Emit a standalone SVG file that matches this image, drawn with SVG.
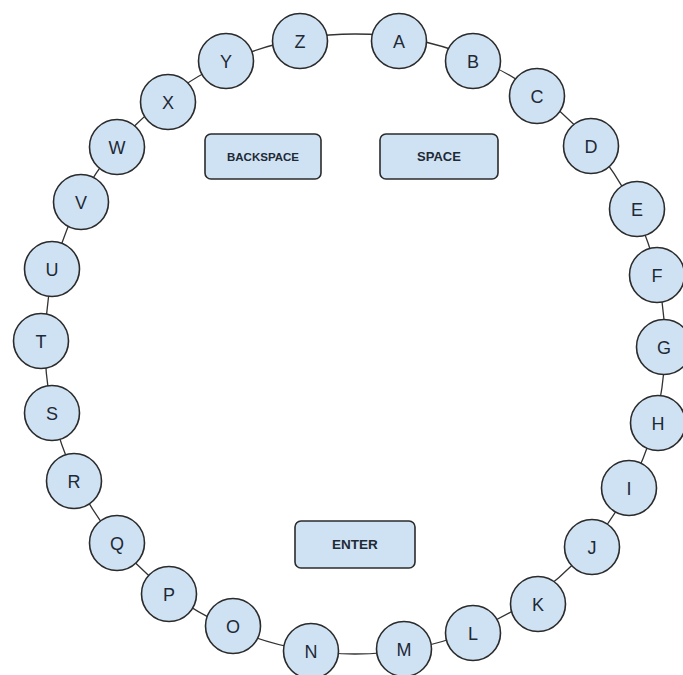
<svg xmlns="http://www.w3.org/2000/svg" width="683" height="675" viewBox="0 0 683 675">
<style>
.ring{fill:none;stroke:#333;stroke-width:1.3}
.node circle{fill:#cfe2f3;stroke:#2b2b2b;stroke-width:1.6}
.node text{font-family:"Liberation Sans",Arial,sans-serif;font-size:18px;fill:#1e2a36;text-anchor:middle}
.key rect{fill:#cfe2f3;stroke:#2b2b2b;stroke-width:1.6}
.key text{font-family:"Liberation Sans",Arial,sans-serif;font-weight:bold;fill:#1e2a36;text-anchor:middle}
</style>
<rect width="683" height="675" fill="#ffffff"/>
<g id="connectors">
<circle class="ring" cx="355" cy="344" r="310"/>
</g>
<g id="A" class="node"><circle cx="399" cy="41" r="27.5"/><text x="399" y="47.5">A</text></g>
<g id="B" class="node"><circle cx="473" cy="61" r="27.5"/><text x="473" y="67.5">B</text></g>
<g id="C" class="node"><circle cx="537" cy="96" r="27.5"/><text x="537" y="102.5">C</text></g>
<g id="D" class="node"><circle cx="591" cy="146" r="27.5"/><text x="591" y="152.5">D</text></g>
<g id="E" class="node"><circle cx="637" cy="209" r="27.5"/><text x="637" y="215.5">E</text></g>
<g id="F" class="node"><circle cx="657" cy="275" r="27.5"/><text x="657" y="281.5">F</text></g>
<g id="G" class="node"><circle cx="664" cy="347" r="27.5"/><text x="664" y="353.5">G</text></g>
<g id="H" class="node"><circle cx="658" cy="423" r="27.5"/><text x="658" y="429.5">H</text></g>
<g id="I" class="node"><circle cx="629" cy="488" r="27.5"/><text x="629" y="494.5">I</text></g>
<g id="J" class="node"><circle cx="592" cy="547" r="27.5"/><text x="592" y="553.5">J</text></g>
<g id="K" class="node"><circle cx="538" cy="604" r="27.5"/><text x="538" y="610.5">K</text></g>
<g id="L" class="node"><circle cx="473" cy="633" r="27.5"/><text x="473" y="639.5">L</text></g>
<g id="M" class="node"><circle cx="404" cy="649" r="27.5"/><text x="404" y="655.5">M</text></g>
<g id="N" class="node"><circle cx="311" cy="651" r="27.5"/><text x="311" y="657.5">N</text></g>
<g id="O" class="node"><circle cx="233" cy="626" r="27.5"/><text x="233" y="632.5">O</text></g>
<g id="P" class="node"><circle cx="169" cy="594" r="27.5"/><text x="169" y="600.5">P</text></g>
<g id="Q" class="node"><circle cx="117" cy="543" r="27.5"/><text x="117" y="549.5">Q</text></g>
<g id="R" class="node"><circle cx="74" cy="481" r="27.5"/><text x="74" y="487.5">R</text></g>
<g id="S" class="node"><circle cx="52" cy="413" r="27.5"/><text x="52" y="419.5">S</text></g>
<g id="T" class="node"><circle cx="41" cy="341" r="27.5"/><text x="41" y="347.5">T</text></g>
<g id="U" class="node"><circle cx="52" cy="269" r="27.5"/><text x="52" y="275.5">U</text></g>
<g id="V" class="node"><circle cx="81" cy="202" r="27.5"/><text x="81" y="208.5">V</text></g>
<g id="W" class="node"><circle cx="117" cy="147" r="27.5"/><text x="117" y="153.5">W</text></g>
<g id="X" class="node"><circle cx="168" cy="102" r="27.5"/><text x="168" y="108.5">X</text></g>
<g id="Y" class="node"><circle cx="226" cy="61" r="27.5"/><text x="226" y="67.5">Y</text></g>
<g id="Z" class="node"><circle cx="300" cy="41" r="27.5"/><text x="300" y="47.5">Z</text></g>
<g id="backspace" class="key"><rect x="205" y="134" width="116" height="45" rx="6"/><text x="263" y="160.5" font-size="11.5">BACKSPACE</text></g>
<g id="space" class="key"><rect x="380" y="134" width="118" height="45" rx="6"/><text x="439" y="161" font-size="13">SPACE</text></g>
<g id="enter" class="key"><rect x="295" y="521" width="120" height="47" rx="6"/><text x="355" y="549" font-size="13.5">ENTER</text></g>
</svg>
